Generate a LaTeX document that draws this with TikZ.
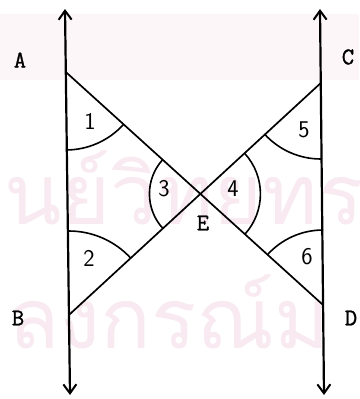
\documentclass[tikz,border=0pt]{standalone}
\usepackage{fontspec}
\newfontfamily\thaifont[Script=Thai]{Loma}
\newfontfamily\labfont[FakeBold=1.2]{Latin Modern Mono}
\usetikzlibrary{arrows.meta}
\definecolor{wmpink}{RGB}{248,234,240}
\definecolor{bandpink}{RGB}{253,246,248}
\tikzset{
  axisline/.style={line width=2.2pt, {Straight Barb[length=9pt,width=13pt,line width=2pt]}-{Straight Barb[length=9pt,width=13pt,line width=2pt]}},
  slant/.style={line width=1.7pt},
  anglearc/.style={line width=1.6pt},
  ptlabel/.style={font=\labfont\fontsize{24}{24}\selectfont, inner sep=0pt},
  numlabel/.style={font=\sffamily\fontsize{24}{24}\selectfont, inner sep=0pt},
  watermark/.style={font=\thaifont\fontsize{84}{84}\selectfont, text=wmpink, inner sep=0pt, anchor=base west}
}
\begin{document}
\begin{tikzpicture}[x=1pt,y=1pt]
\useasboundingbox (0,0) rectangle (359,-399);
\fill[white] (0,0) rectangle (359,-399);
\fill[bandpink] (0,-14) rectangle (359,-80);
% watermark
\node[watermark] (wm1) at (4,-224) {นย์วิทยทร};
\node[watermark] (wm2) at (8,-348) {ลงกรณ์ม};
% axes
\coordinate (Ltop) at (65,-9);
\coordinate (Lbot) at (70,-395);
\coordinate (Rtop) at (320,-9);
\coordinate (Rbot) at (324,-395);
\draw[axisline] (Lbot) -- (Ltop);
\draw[axisline] (Rbot) -- (Rtop);
% points
\coordinate (A) at (65.8,-72);
\coordinate (B) at (68.9,-315);
\coordinate (C) at (320.8,-83);
\coordinate (D) at (323.1,-305);
\coordinate (E) at (intersection of A--D and B--C);
\draw[slant] (A) -- (D);
\draw[slant] (B) -- (C);
% angle arcs
\draw[anglearc] (A) ++(-90:78) arc[start angle=-90, end angle=-42.3, radius=78];
\draw[anglearc] (B) ++(42.6:84) arc[start angle=42.6, end angle=90, radius=84];
\draw[anglearc] (C) ++(222.6:76) arc[start angle=222.6, end angle=270, radius=76];
\draw[anglearc] (D) ++(90:75) arc[start angle=90, end angle=137.8, radius=75];
\draw[anglearc] (E) ++(137.7:51) arc[start angle=137.7, end angle=222.6, radius=51];
\draw[anglearc] (E) ++(-42.3:60) arc[start angle=-42.3, end angle=42.6, radius=60];
% labels
\node[ptlabel] (lA) at (20,-60) {A};
\node[ptlabel] (lB) at (18,-318) {B};
\node[ptlabel] (lC) at (348,-57) {C};
\node[ptlabel] (lD) at (351,-318) {D};
\node[ptlabel] (lE) at (203,-223) {E};
\node[numlabel] (n1) at (90,-121) {1};
\node[numlabel] (n2) at (89,-258) {2};
\node[numlabel] (n3) at (164,-189) {3};
\node[numlabel] (n4) at (233,-189) {4};
\node[numlabel] (n5) at (304,-130) {5};
\node[numlabel] (n6) at (307,-257) {6};
\end{tikzpicture}
\end{document}
